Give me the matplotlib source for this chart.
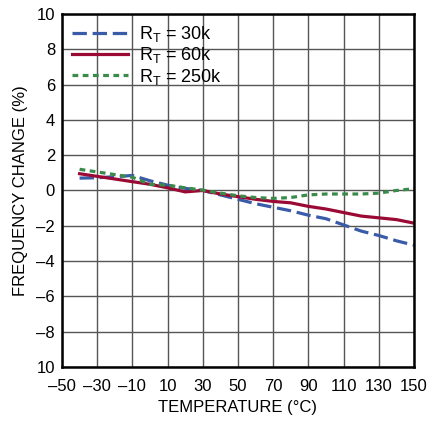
import matplotlib
matplotlib.use('Agg')
import matplotlib.pyplot as plt

plt.rcParams['font.family'] = ['Liberation Sans', 'DejaVu Sans']
plt.rcParams['mathtext.fontset'] = 'custom'
plt.rcParams['mathtext.rm'] = 'Liberation Sans'

temp = [-40, -30, -20, -10, 0, 10, 20, 30, 40, 50, 60, 70, 80, 90, 100, 110, 120, 130, 140, 150]
rt_30k = [0.7, 0.72, 0.78, 0.85, 0.55, 0.3, 0.12, 0.0, -0.25, -0.5, -0.75, -0.95, -1.15, -1.4,
          -1.6, -1.95, -2.3, -2.55, -2.85, -3.1]
rt_60k = [0.95, 0.8, 0.65, 0.5, 0.35, 0.15, -0.08, 0.0, -0.2, -0.35, -0.5, -0.62, -0.7, -0.9,
          -1.05, -1.25, -1.45, -1.55, -1.65, -1.85]
rt_250k = [1.2, 1.05, 0.9, 0.75, 0.35, 0.3, 0.15, 0.02, -0.15, -0.3, -0.4, -0.45, -0.4, -0.25,
           -0.2, -0.2, -0.2, -0.15, 0.0, 0.1]

xticks = list(range(-50, 151, 20))
yticks = list(range(-10, 11, 2))
ylabels = ['10', '\u20138', '\u20136', '\u20134', '\u20132', '0', '2', '4', '6', '8', '10']
xlabels = [str(t).replace('-', '\u2013') for t in xticks]

fig = plt.figure(figsize=(4.29, 4.23), dpi=100)
ax = fig.add_axes([0.1445, 0.1324, 0.8205, 0.8346])

ax.plot(temp, rt_30k, color='#3a5ba8', lw=2.3, dashes=(4.5, 1.8), label=r'R$_\mathrm{T}$ = 30k')
ax.plot(temp, rt_60k, color='#9b0a35', lw=2.3, label=r'R$_\mathrm{T}$ = 60k')
ax.plot(temp, rt_250k, color='#3a8a4a', lw=2.3, dashes=(1.8, 1.4), label=r'R$_\mathrm{T}$ = 250k')

ax.set_xlim(-50, 150)
ax.set_ylim(-10, 10)
ax.set_xticks(xticks)
ax.set_xticklabels(xlabels)
ax.set_yticks(yticks)
ax.set_yticklabels(ylabels)
ax.tick_params(length=0, labelsize=12)
ax.tick_params(axis='x', pad=9)
ax.tick_params(axis='y', pad=5)
ax.grid(True, color='#555555', lw=1)
for s in ax.spines.values():
    s.set_linewidth(1.8)
    s.set_color('black')

ax.set_xlabel('TEMPERATURE (°C)', fontsize=12, labelpad=4)
ax.set_ylabel('FREQUENCY CHANGE (%)', fontsize=12, labelpad=6)

ax.legend(loc='upper left', frameon=False, fontsize=13, handlelength=3.1,
          borderaxespad=0.15, labelspacing=0.08, handletextpad=0.6)

fig.savefig('out.png', dpi=100, facecolor='white')
